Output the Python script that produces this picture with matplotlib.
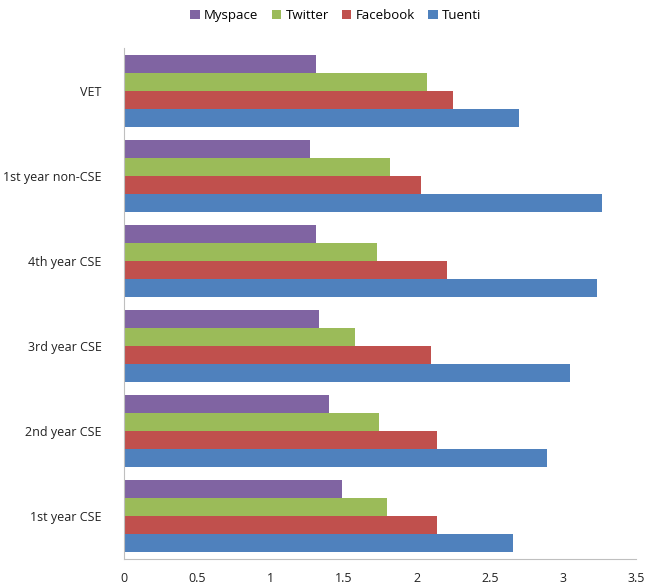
import numpy as np
import matplotlib.pyplot as plt

plt.rcParams['font.family'] = ['Open Sans', 'DejaVu Sans']

groups = ['1st year CSE', '2nd year CSE', '3rd year CSE', '4th year CSE', '1st year non-CSE', 'VET']
myspace = [1.49, 1.40, 1.33, 1.31, 1.27, 1.31]
twitter = [1.80, 1.74, 1.58, 1.73, 1.82, 2.07]
facebook = [2.14, 2.14, 2.10, 2.21, 2.03, 2.25]
tuenti = [2.66, 2.89, 3.05, 3.23, 3.27, 2.70]

series = [('Tuenti', tuenti, '#4F81BD'),
          ('Facebook', facebook, '#C0504D'),
          ('Twitter', twitter, '#9BBB59'),
          ('Myspace', myspace, '#8064A2')]

fig = plt.figure(figsize=(6.51, 5.87), dpi=100)
ax = fig.add_axes([124/651, 1 - 559/587, (636 - 124)/651, (559 - 48)/587])

y = np.arange(len(groups))
h = 0.211
handles = {}
for i, (name, vals, col) in enumerate(series):
    b = ax.barh(y + (i - 1.5) * h, vals, height=h, color=col, label=name)
    handles[name] = b

ax.set_ylim(-0.5, len(groups) - 0.5)
ax.set_xlim(0, 3.5)
ax.set_xticks(np.arange(0, 3.51, 0.5))
ax.set_xticklabels(['0', '0.5', '1', '1.5', '2', '2.5', '3', '3.5'])
ax.set_yticks(y)
ax.set_yticklabels(groups)
ax.tick_params(axis='both', length=0, labelsize=9, colors='#222222')
ax.tick_params(axis='x', pad=9)
ax.tick_params(axis='y', pad=16)
for s in ['top', 'right']:
    ax.spines[s].set_visible(False)
for s in ['left', 'bottom']:
    ax.spines[s].set_color('#BFBFBF')

order = ['Myspace', 'Twitter', 'Facebook', 'Tuenti']
fig.legend([handles[n] for n in order], order, loc='upper center', bbox_to_anchor=(0.516, 1.005),
           ncol=4, frameon=False, fontsize=9.5, handlelength=0.7, handleheight=0.7,
           columnspacing=1.0, handletextpad=0.35)

fig.savefig('out.png', dpi=100)
